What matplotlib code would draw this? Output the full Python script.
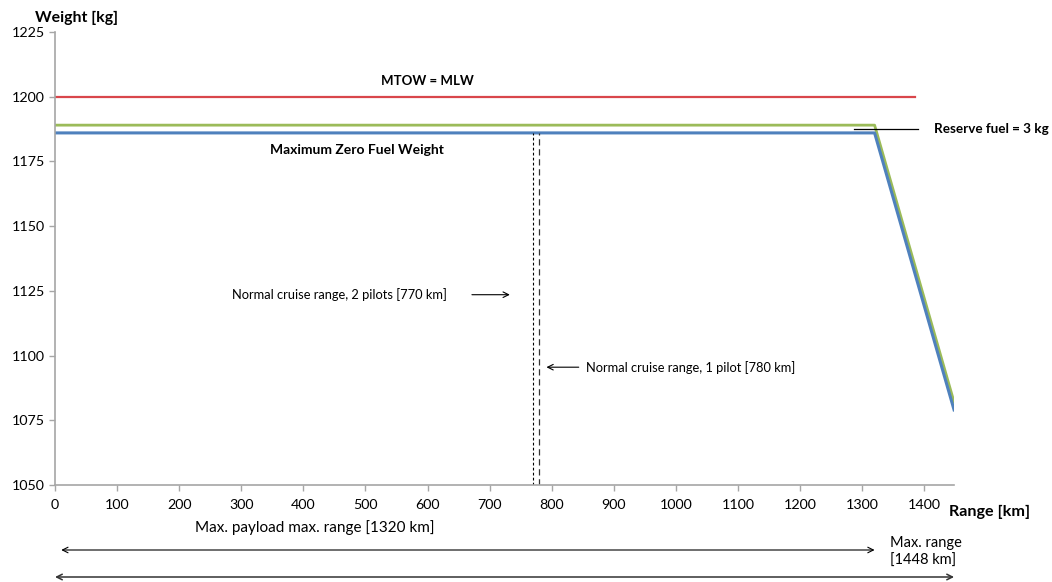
import matplotlib
matplotlib.use("Agg")
import matplotlib.pyplot as plt
from matplotlib.transforms import blended_transform_factory

plt.rcParams['font.family'] = ['Lato', 'DejaVu Sans']

# Payload-range data
range_km = [0, 1320, 1448]
zero_fuel_weight = [1186, 1186, 1079]
reserve_fuel_weight = [1189, 1189, 1082]
mtow_range = [0, 1385]
mtow_weight = [1200, 1200]
cruise_2_pilots = 770
cruise_1_pilot = 780
max_payload_range = 1320
max_range = 1448
x_ticks = list(range(0, 1401, 100))
y_ticks = [1050, 1075, 1100, 1125, 1150, 1175, 1200, 1225]

fig = plt.figure(figsize=(10.52, 5.82), dpi=100)
ax = fig.add_axes([0.0523, 0.1667, 0.8546, 0.7784])

ax.plot(mtow_range, mtow_weight, color='#D9464B', lw=1.6)
ax.plot(range_km, reserve_fuel_weight, color='#9BBB59', lw=2.0)
ax.plot(range_km, zero_fuel_weight, color='#4F81BD', lw=2.2)

ax.plot([cruise_2_pilots, cruise_2_pilots], [1050, zero_fuel_weight[0]],
        color='black', lw=0.8, ls=(0, (2.5, 2)))
ax.plot([cruise_1_pilot, cruise_1_pilot], [1050, zero_fuel_weight[0]],
        color='#333333', lw=0.9, ls=(0, (5, 3)))

ax.set_xlim(0, max_range)
ax.set_ylim(1050, 1225)
ax.set_xticks(x_ticks)
ax.set_yticks(y_ticks)
for s in ['top', 'right']:
    ax.spines[s].set_visible(False)
for s in ['left', 'bottom']:
    ax.spines[s].set_color('#A6A6A6')
    ax.spines[s].set_linewidth(1.2)
ax.tick_params(axis='both', colors='#A6A6A6', labelcolor='black',
               labelsize=10.3, length=4, width=1)
ax.tick_params(axis='x', pad=6)

ax.text(600, 1206, 'MTOW = MLW', ha='center', va='center',
        fontweight='bold', fontsize=9.5)
ax.text(486, 1179.4, 'Maximum Zero Fuel Weight', ha='center', va='center',
        fontweight='bold', fontsize=10)

# Reserve fuel callout
ax.plot([1287, 1390], [1187.6, 1187.6], color='black', lw=0.9, clip_on=False)
ax.text(1415, 1187.6, 'Reserve fuel = 3 kg', ha='left', va='center',
        fontweight='bold', fontsize=9.7)

# Cruise range callouts
ax.text(285, 1123.5, 'Normal cruise range, 2 pilots [770 km]', ha='left',
        va='center', fontsize=9.3)
ax.annotate('', xy=(737, 1123.5), xytext=(667, 1123.5),
            arrowprops=dict(arrowstyle='->', lw=0.8, color='black'))
ax.text(856, 1095.5, 'Normal cruise range, 1 pilot [780 km]', ha='left',
        va='center', fontsize=9.3)
ax.annotate('', xy=(787, 1095.5), xytext=(848, 1095.5),
            arrowprops=dict(arrowstyle='->', lw=0.8, color='black'))

fig.text(35 / 1052, 1 - 18 / 582, 'Weight [kg]', ha='left', va='center',
         fontweight='bold', fontsize=11.4)
fig.text(949 / 1052, 1 - 512 / 582, 'Range [km]', ha='left', va='center',
         fontweight='bold', fontsize=11.6)

# Range arrows beneath the axis
tr = blended_transform_factory(ax.transData, fig.transFigure)
ax.text(419, 1 - 528 / 582, 'Max. payload max. range [1320 km]', transform=tr,
        ha='center', va='center', fontsize=11)
ax.annotate('', xy=(10, 1 - 550 / 582), xytext=(max_payload_range, 1 - 550 / 582),
            xycoords=tr, textcoords=tr,
            arrowprops=dict(arrowstyle='<->', lw=0.8, color='black',
                            shrinkA=0, shrinkB=0))
ax.annotate('', xy=(0, 1 - 577 / 582), xytext=(max_range, 1 - 577 / 582),
            xycoords=tr, textcoords=tr,
            arrowprops=dict(arrowstyle='<->', lw=1.1, color='#333333',
                            shrinkA=0, shrinkB=0))
ax.text(1345, 1 - 552 / 582, 'Max. range\n[1448 km]', transform=tr,
        ha='left', va='center', fontsize=10.5, linespacing=1.35)

fig.savefig('out.png', dpi=100)
